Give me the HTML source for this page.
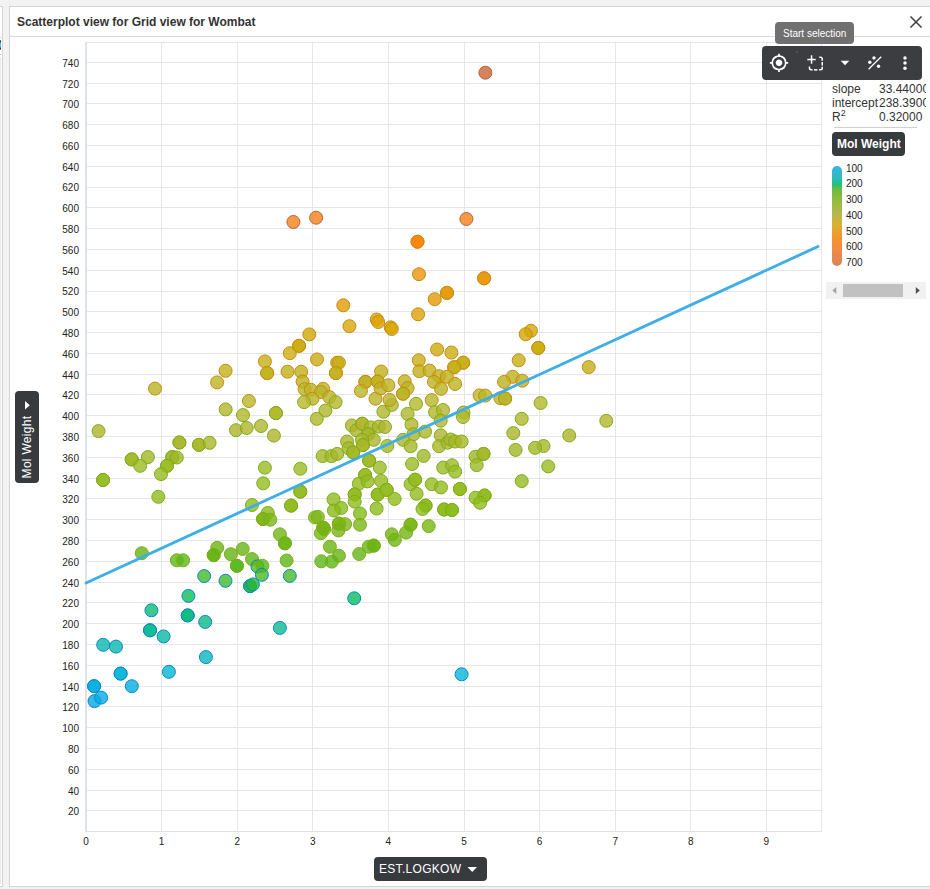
<!DOCTYPE html>
<html><head><meta charset="utf-8"><style>
*{margin:0;padding:0;box-sizing:border-box}
html,body{width:930px;height:889px;overflow:hidden;background:#f2f2f2;font-family:"Liberation Sans",sans-serif}
.lp{position:absolute;left:-10px;top:6px;width:13px;height:881px;background:#fff;border:1px solid #d4d4d4}
.lp .ln{position:absolute;left:0;top:30px;width:12px;height:1px;background:#e0e0e0}
.lp .ic{position:absolute;left:9px;top:33px;width:1.2px;height:10px;background:linear-gradient(#f5c070 0%,#101828 12%,#2a88d0 25%,#8cd0f0 50%,#2a88d0 75%,#101828 88%,#f5c070 100%)}
.lp .mk{position:absolute;left:9px;top:47px;width:1px;height:1px;background:#b0b0b0}
.lp .sb{position:absolute;left:9px;top:50px;width:1px;height:827px;background:#ebebeb}
.dlg{position:absolute;left:9px;top:6px;width:940px;height:881px;background:#fff;border:1px solid #d4d4d4}
.ttl{position:absolute;left:0;top:0;width:100%;height:30px;border-bottom:1px solid #d8d8d8}
.ttl span{position:absolute;left:7px;top:8px;font-size:12px;font-weight:bold;color:#333}
svg{position:absolute;left:0;top:0}
.yl{position:absolute;left:39px;width:40px;text-align:right;font-size:10px;color:#222;line-height:13px}
.xl{position:absolute;top:834.5px;width:20px;text-align:center;font-size:10px;color:#222;line-height:13px}
.btn{position:absolute;background:#383b3e;border-radius:4px;color:#fff}
</style></head><body>
<div class="lp"><div class="ln"></div><div class="ic"></div><div class="mk"></div><div class="sb"></div></div>
<div class="dlg"><div class="ttl"><span>Scatterplot view for Grid view for Wombat</span></div></div>
<svg width="930" height="889" viewBox="0 0 930 889">
<g stroke="#e4e6e9" stroke-width="1" shape-rendering="crispEdges">
<line x1="161.5" y1="42" x2="161.5" y2="831"/>
<line x1="237.5" y1="42" x2="237.5" y2="831"/>
<line x1="312.5" y1="42" x2="312.5" y2="831"/>
<line x1="388.5" y1="42" x2="388.5" y2="831"/>
<line x1="464.5" y1="42" x2="464.5" y2="831"/>
<line x1="539.5" y1="42" x2="539.5" y2="831"/>
<line x1="615.5" y1="42" x2="615.5" y2="831"/>
<line x1="690.5" y1="42" x2="690.5" y2="831"/>
<line x1="766.5" y1="42" x2="766.5" y2="831"/>
<line x1="86" y1="810.5" x2="821" y2="810.5"/>
<line x1="86" y1="790.5" x2="821" y2="790.5"/>
<line x1="86" y1="769.5" x2="821" y2="769.5"/>
<line x1="86" y1="748.5" x2="821" y2="748.5"/>
<line x1="86" y1="727.5" x2="821" y2="727.5"/>
<line x1="86" y1="706.5" x2="821" y2="706.5"/>
<line x1="86" y1="686.5" x2="821" y2="686.5"/>
<line x1="86" y1="665.5" x2="821" y2="665.5"/>
<line x1="86" y1="644.5" x2="821" y2="644.5"/>
<line x1="86" y1="623.5" x2="821" y2="623.5"/>
<line x1="86" y1="602.5" x2="821" y2="602.5"/>
<line x1="86" y1="582.5" x2="821" y2="582.5"/>
<line x1="86" y1="561.5" x2="821" y2="561.5"/>
<line x1="86" y1="540.5" x2="821" y2="540.5"/>
<line x1="86" y1="519.5" x2="821" y2="519.5"/>
<line x1="86" y1="498.5" x2="821" y2="498.5"/>
<line x1="86" y1="478.5" x2="821" y2="478.5"/>
<line x1="86" y1="457.5" x2="821" y2="457.5"/>
<line x1="86" y1="436.5" x2="821" y2="436.5"/>
<line x1="86" y1="415.5" x2="821" y2="415.5"/>
<line x1="86" y1="394.5" x2="821" y2="394.5"/>
<line x1="86" y1="374.5" x2="821" y2="374.5"/>
<line x1="86" y1="353.5" x2="821" y2="353.5"/>
<line x1="86" y1="332.5" x2="821" y2="332.5"/>
<line x1="86" y1="311.5" x2="821" y2="311.5"/>
<line x1="86" y1="291.5" x2="821" y2="291.5"/>
<line x1="86" y1="270.5" x2="821" y2="270.5"/>
<line x1="86" y1="249.5" x2="821" y2="249.5"/>
<line x1="86" y1="228.5" x2="821" y2="228.5"/>
<line x1="86" y1="207.5" x2="821" y2="207.5"/>
<line x1="86" y1="187.5" x2="821" y2="187.5"/>
<line x1="86" y1="166.5" x2="821" y2="166.5"/>
<line x1="86" y1="145.5" x2="821" y2="145.5"/>
<line x1="86" y1="124.5" x2="821" y2="124.5"/>
<line x1="86" y1="103.5" x2="821" y2="103.5"/>
<line x1="86" y1="83.5" x2="821" y2="83.5"/>
<line x1="86" y1="62.5" x2="821" y2="62.5"/>
<line x1="821.5" y1="42" x2="821.5" y2="831" />
<line x1="86" y1="42.5" x2="821" y2="42.5" />
</g>
<g shape-rendering="crispEdges"><rect x="85" y="42" width="2" height="790" fill="#e0e3e6"/><rect x="85" y="831" width="737" height="1" fill="#e0e3e6"/></g>
<g stroke-width="1">
<circle cx="485.4" cy="72.7" r="6.5" fill="#cb6433" fill-opacity="0.8" stroke="#bc6238" stroke-opacity="1"/>
<circle cx="293.4" cy="222.0" r="6.5" fill="#f38216" fill-opacity="0.8" stroke="#bc6238" stroke-opacity="1"/>
<circle cx="316.1" cy="217.7" r="6.5" fill="#f28218" fill-opacity="0.8" stroke="#bc6238" stroke-opacity="1"/>
<circle cx="466.4" cy="219.0" r="6.5" fill="#f28218" fill-opacity="0.8" stroke="#bc6238" stroke-opacity="1"/>
<circle cx="417.5" cy="241.7" r="6.5" fill="#fa8205" fill-opacity="0.8" stroke="#c88c10" stroke-opacity="1"/>
<circle cx="417.5" cy="241.7" r="6.5" fill="#fa8205" fill-opacity="0.8" stroke="#c88c10" stroke-opacity="1"/>
<circle cx="419.0" cy="274.2" r="6.5" fill="#ec950b" fill-opacity="0.8" stroke="#c88c10" stroke-opacity="1"/>
<circle cx="484.1" cy="278.3" r="6.5" fill="#eb960a" fill-opacity="0.8" stroke="#c88c10" stroke-opacity="1"/>
<circle cx="484.1" cy="278.3" r="6.5" fill="#eb960a" fill-opacity="0.8" stroke="#c88c10" stroke-opacity="1"/>
<circle cx="447.0" cy="292.8" r="6.5" fill="#e59907" fill-opacity="0.8" stroke="#c88c10" stroke-opacity="1"/>
<circle cx="447.0" cy="292.8" r="6.5" fill="#e59907" fill-opacity="0.8" stroke="#c88c10" stroke-opacity="1"/>
<circle cx="434.7" cy="299.2" r="6.5" fill="#e29a06" fill-opacity="0.8" stroke="#c88c10" stroke-opacity="1"/>
<circle cx="418.1" cy="314.3" r="6.5" fill="#dda005" fill-opacity="0.8" stroke="#c88c10" stroke-opacity="1"/>
<circle cx="343.3" cy="305.3" r="6.5" fill="#e09b05" fill-opacity="0.8" stroke="#c88c10" stroke-opacity="1"/>
<circle cx="349.4" cy="326.2" r="6.5" fill="#daa805" fill-opacity="0.8" stroke="#c88c10" stroke-opacity="1"/>
<circle cx="309.3" cy="334.4" r="6.5" fill="#d1a805" fill-opacity="0.8" stroke="#c88c10" stroke-opacity="1"/>
<circle cx="376.8" cy="319.5" r="6.5" fill="#dca405" fill-opacity="0.8" stroke="#c88c10" stroke-opacity="1"/>
<circle cx="378.2" cy="322.0" r="6.5" fill="#dba505" fill-opacity="0.8" stroke="#c88c10" stroke-opacity="1"/>
<circle cx="390.7" cy="327.3" r="6.5" fill="#d9a805" fill-opacity="0.8" stroke="#c88c10" stroke-opacity="1"/>
<circle cx="391.8" cy="329.0" r="6.5" fill="#d7a805" fill-opacity="0.8" stroke="#c88c10" stroke-opacity="1"/>
<circle cx="530.9" cy="330.8" r="6.5" fill="#d5a805" fill-opacity="0.8" stroke="#c88c10" stroke-opacity="1"/>
<circle cx="525.7" cy="334.2" r="6.5" fill="#d2a805" fill-opacity="0.8" stroke="#c88c10" stroke-opacity="1"/>
<circle cx="225.6" cy="370.8" r="6.5" fill="#c2b01a" fill-opacity="0.8" stroke="#c88c10" stroke-opacity="1"/>
<circle cx="217.1" cy="382.4" r="6.5" fill="#bdb320" fill-opacity="0.8" stroke="#c88c10" stroke-opacity="1"/>
<circle cx="264.9" cy="361.4" r="6.5" fill="#c6ae14" fill-opacity="0.8" stroke="#c88c10" stroke-opacity="1"/>
<circle cx="267.2" cy="373.1" r="6.5" fill="#c1b11b" fill-opacity="0.8" stroke="#c88c10" stroke-opacity="1"/>
<circle cx="267.2" cy="373.1" r="6.5" fill="#c1b11b" fill-opacity="0.8" stroke="#c88c10" stroke-opacity="1"/>
<circle cx="289.8" cy="353.2" r="6.5" fill="#c9ac10" fill-opacity="0.8" stroke="#c88c10" stroke-opacity="1"/>
<circle cx="299.0" cy="345.8" r="6.5" fill="#ccaa0b" fill-opacity="0.8" stroke="#c88c10" stroke-opacity="1"/>
<circle cx="299.0" cy="345.8" r="6.5" fill="#ccaa0b" fill-opacity="0.8" stroke="#c88c10" stroke-opacity="1"/>
<circle cx="287.5" cy="371.7" r="6.5" fill="#c1b01a" fill-opacity="0.8" stroke="#c88c10" stroke-opacity="1"/>
<circle cx="248.9" cy="401.0" r="6.5" fill="#b6b729" fill-opacity="0.8" stroke="#c88c10" stroke-opacity="1"/>
<circle cx="225.6" cy="409.4" r="6.5" fill="#b3b72b" fill-opacity="0.8" stroke="#80ac1c" stroke-opacity="1"/>
<circle cx="243.0" cy="415.1" r="6.5" fill="#b2b72b" fill-opacity="0.8" stroke="#80ac1c" stroke-opacity="1"/>
<circle cx="275.9" cy="413.1" r="6.5" fill="#b2b72b" fill-opacity="0.8" stroke="#80ac1c" stroke-opacity="1"/>
<circle cx="275.9" cy="413.1" r="6.5" fill="#b2b72b" fill-opacity="0.8" stroke="#80ac1c" stroke-opacity="1"/>
<circle cx="317.0" cy="359.4" r="6.5" fill="#c7ad13" fill-opacity="0.8" stroke="#c88c10" stroke-opacity="1"/>
<circle cx="337.2" cy="362.7" r="6.5" fill="#c5ae15" fill-opacity="0.8" stroke="#c88c10" stroke-opacity="1"/>
<circle cx="338.9" cy="362.7" r="6.5" fill="#c5ae15" fill-opacity="0.8" stroke="#c88c10" stroke-opacity="1"/>
<circle cx="335.9" cy="373.1" r="6.5" fill="#c1b11b" fill-opacity="0.8" stroke="#c88c10" stroke-opacity="1"/>
<circle cx="335.9" cy="373.1" r="6.5" fill="#c1b11b" fill-opacity="0.8" stroke="#c88c10" stroke-opacity="1"/>
<circle cx="301.2" cy="371.7" r="6.5" fill="#c1b01a" fill-opacity="0.8" stroke="#c88c10" stroke-opacity="1"/>
<circle cx="302.6" cy="381.6" r="6.5" fill="#bdb220" fill-opacity="0.8" stroke="#c88c10" stroke-opacity="1"/>
<circle cx="304.6" cy="389.2" r="6.5" fill="#bab424" fill-opacity="0.8" stroke="#c88c10" stroke-opacity="1"/>
<circle cx="310.8" cy="389.7" r="6.5" fill="#bab424" fill-opacity="0.8" stroke="#c88c10" stroke-opacity="1"/>
<circle cx="323.2" cy="388.8" r="6.5" fill="#bab424" fill-opacity="0.8" stroke="#c88c10" stroke-opacity="1"/>
<circle cx="320.9" cy="392.0" r="6.5" fill="#b9b525" fill-opacity="0.8" stroke="#c88c10" stroke-opacity="1"/>
<circle cx="312.5" cy="398.7" r="6.5" fill="#b6b628" fill-opacity="0.8" stroke="#c88c10" stroke-opacity="1"/>
<circle cx="329.4" cy="397.1" r="6.5" fill="#b7b627" fill-opacity="0.8" stroke="#c88c10" stroke-opacity="1"/>
<circle cx="304.1" cy="402.1" r="6.5" fill="#b5b72a" fill-opacity="0.8" stroke="#80ac1c" stroke-opacity="1"/>
<circle cx="335.6" cy="402.1" r="6.5" fill="#b5b72a" fill-opacity="0.8" stroke="#80ac1c" stroke-opacity="1"/>
<circle cx="325.4" cy="410.6" r="6.5" fill="#b3b72b" fill-opacity="0.8" stroke="#80ac1c" stroke-opacity="1"/>
<circle cx="365.4" cy="381.9" r="6.5" fill="#bdb220" fill-opacity="0.8" stroke="#c88c10" stroke-opacity="1"/>
<circle cx="365.4" cy="381.9" r="6.5" fill="#bdb220" fill-opacity="0.8" stroke="#c88c10" stroke-opacity="1"/>
<circle cx="360.9" cy="390.9" r="6.5" fill="#b9b525" fill-opacity="0.8" stroke="#c88c10" stroke-opacity="1"/>
<circle cx="375.5" cy="398.7" r="6.5" fill="#b6b628" fill-opacity="0.8" stroke="#c88c10" stroke-opacity="1"/>
<circle cx="381.1" cy="371.5" r="6.5" fill="#c1b01a" fill-opacity="0.8" stroke="#c88c10" stroke-opacity="1"/>
<circle cx="377.7" cy="381.6" r="6.5" fill="#bdb220" fill-opacity="0.8" stroke="#c88c10" stroke-opacity="1"/>
<circle cx="377.7" cy="381.6" r="6.5" fill="#bdb220" fill-opacity="0.8" stroke="#c88c10" stroke-opacity="1"/>
<circle cx="380.6" cy="388.4" r="6.5" fill="#bab424" fill-opacity="0.8" stroke="#c88c10" stroke-opacity="1"/>
<circle cx="383.4" cy="411.7" r="6.5" fill="#b3b72b" fill-opacity="0.8" stroke="#80ac1c" stroke-opacity="1"/>
<circle cx="437.1" cy="349.5" r="6.5" fill="#cbab0d" fill-opacity="0.8" stroke="#c88c10" stroke-opacity="1"/>
<circle cx="451.4" cy="352.6" r="6.5" fill="#c9ac0f" fill-opacity="0.8" stroke="#c88c10" stroke-opacity="1"/>
<circle cx="418.8" cy="360.3" r="6.5" fill="#c6ae14" fill-opacity="0.8" stroke="#c88c10" stroke-opacity="1"/>
<circle cx="463.2" cy="362.7" r="6.5" fill="#c5ae15" fill-opacity="0.8" stroke="#c88c10" stroke-opacity="1"/>
<circle cx="463.2" cy="362.7" r="6.5" fill="#c5ae15" fill-opacity="0.8" stroke="#c88c10" stroke-opacity="1"/>
<circle cx="454.2" cy="367.2" r="6.5" fill="#c3af18" fill-opacity="0.8" stroke="#c88c10" stroke-opacity="1"/>
<circle cx="454.2" cy="367.2" r="6.5" fill="#c3af18" fill-opacity="0.8" stroke="#c88c10" stroke-opacity="1"/>
<circle cx="419.4" cy="371.2" r="6.5" fill="#c1b01a" fill-opacity="0.8" stroke="#c88c10" stroke-opacity="1"/>
<circle cx="429.5" cy="370.6" r="6.5" fill="#c2b01a" fill-opacity="0.8" stroke="#c88c10" stroke-opacity="1"/>
<circle cx="439.1" cy="376.2" r="6.5" fill="#bfb11d" fill-opacity="0.8" stroke="#c88c10" stroke-opacity="1"/>
<circle cx="446.9" cy="376.8" r="6.5" fill="#bfb11d" fill-opacity="0.8" stroke="#c88c10" stroke-opacity="1"/>
<circle cx="434.0" cy="381.9" r="6.5" fill="#bdb220" fill-opacity="0.8" stroke="#c88c10" stroke-opacity="1"/>
<circle cx="455.1" cy="383.9" r="6.5" fill="#bcb321" fill-opacity="0.8" stroke="#c88c10" stroke-opacity="1"/>
<circle cx="441.0" cy="388.8" r="6.5" fill="#bab424" fill-opacity="0.8" stroke="#c88c10" stroke-opacity="1"/>
<circle cx="431.7" cy="400.1" r="6.5" fill="#b6b729" fill-opacity="0.8" stroke="#c88c10" stroke-opacity="1"/>
<circle cx="404.7" cy="381.3" r="6.5" fill="#bdb220" fill-opacity="0.8" stroke="#c88c10" stroke-opacity="1"/>
<circle cx="407.6" cy="388.1" r="6.5" fill="#bab424" fill-opacity="0.8" stroke="#c88c10" stroke-opacity="1"/>
<circle cx="403.1" cy="393.7" r="6.5" fill="#b8b526" fill-opacity="0.8" stroke="#c88c10" stroke-opacity="1"/>
<circle cx="403.1" cy="393.7" r="6.5" fill="#b8b526" fill-opacity="0.8" stroke="#c88c10" stroke-opacity="1"/>
<circle cx="388.4" cy="385.2" r="6.5" fill="#bcb322" fill-opacity="0.8" stroke="#c88c10" stroke-opacity="1"/>
<circle cx="391.8" cy="404.9" r="6.5" fill="#b4b82b" fill-opacity="0.8" stroke="#80ac1c" stroke-opacity="1"/>
<circle cx="389.6" cy="399.9" r="6.5" fill="#b6b729" fill-opacity="0.8" stroke="#c88c10" stroke-opacity="1"/>
<circle cx="416.0" cy="403.8" r="6.5" fill="#b5b82a" fill-opacity="0.8" stroke="#80ac1c" stroke-opacity="1"/>
<circle cx="407.6" cy="413.9" r="6.5" fill="#b2b72b" fill-opacity="0.8" stroke="#80ac1c" stroke-opacity="1"/>
<circle cx="435.1" cy="412.2" r="6.5" fill="#b2b72b" fill-opacity="0.8" stroke="#80ac1c" stroke-opacity="1"/>
<circle cx="443.0" cy="410.0" r="6.5" fill="#b3b72b" fill-opacity="0.8" stroke="#80ac1c" stroke-opacity="1"/>
<circle cx="463.5" cy="412.5" r="6.5" fill="#b2b72b" fill-opacity="0.8" stroke="#80ac1c" stroke-opacity="1"/>
<circle cx="463.0" cy="417.0" r="6.5" fill="#b1b62b" fill-opacity="0.8" stroke="#80ac1c" stroke-opacity="1"/>
<circle cx="538.3" cy="347.9" r="6.5" fill="#cbab0d" fill-opacity="0.8" stroke="#c88c10" stroke-opacity="1"/>
<circle cx="538.3" cy="347.9" r="6.5" fill="#cbab0d" fill-opacity="0.8" stroke="#c88c10" stroke-opacity="1"/>
<circle cx="518.7" cy="360.3" r="6.5" fill="#c6ae14" fill-opacity="0.8" stroke="#c88c10" stroke-opacity="1"/>
<circle cx="512.7" cy="376.8" r="6.5" fill="#bfb11d" fill-opacity="0.8" stroke="#c88c10" stroke-opacity="1"/>
<circle cx="504.1" cy="381.9" r="6.5" fill="#bdb220" fill-opacity="0.8" stroke="#c88c10" stroke-opacity="1"/>
<circle cx="522.3" cy="380.7" r="6.5" fill="#bdb21f" fill-opacity="0.8" stroke="#c88c10" stroke-opacity="1"/>
<circle cx="479.6" cy="395.4" r="6.5" fill="#b8b627" fill-opacity="0.8" stroke="#c88c10" stroke-opacity="1"/>
<circle cx="485.2" cy="395.6" r="6.5" fill="#b8b627" fill-opacity="0.8" stroke="#c88c10" stroke-opacity="1"/>
<circle cx="500.4" cy="398.2" r="6.5" fill="#b7b628" fill-opacity="0.8" stroke="#c88c10" stroke-opacity="1"/>
<circle cx="505.1" cy="398.5" r="6.5" fill="#b7b628" fill-opacity="0.8" stroke="#c88c10" stroke-opacity="1"/>
<circle cx="505.1" cy="398.5" r="6.5" fill="#b7b628" fill-opacity="0.8" stroke="#c88c10" stroke-opacity="1"/>
<circle cx="540.6" cy="403.0" r="6.5" fill="#b5b72a" fill-opacity="0.8" stroke="#80ac1c" stroke-opacity="1"/>
<circle cx="588.7" cy="367.1" r="6.5" fill="#c3af18" fill-opacity="0.8" stroke="#c88c10" stroke-opacity="1"/>
<circle cx="606.3" cy="420.8" r="6.5" fill="#b0b62b" fill-opacity="0.8" stroke="#80ac1c" stroke-opacity="1"/>
<circle cx="569.2" cy="435.5" r="6.5" fill="#acb52a" fill-opacity="0.8" stroke="#80ac1c" stroke-opacity="1"/>
<circle cx="543.5" cy="446.0" r="6.5" fill="#a6b628" fill-opacity="0.8" stroke="#80ac1c" stroke-opacity="1"/>
<circle cx="535.1" cy="447.8" r="6.5" fill="#a5b728" fill-opacity="0.8" stroke="#80ac1c" stroke-opacity="1"/>
<circle cx="548.2" cy="466.4" r="6.5" fill="#9cba24" fill-opacity="0.8" stroke="#80ac1c" stroke-opacity="1"/>
<circle cx="155.0" cy="388.6" r="6.5" fill="#bab424" fill-opacity="0.8" stroke="#c88c10" stroke-opacity="1"/>
<circle cx="98.5" cy="431.1" r="6.5" fill="#aeb42b" fill-opacity="0.8" stroke="#80ac1c" stroke-opacity="1"/>
<circle cx="179.4" cy="442.5" r="6.5" fill="#a8b629" fill-opacity="0.8" stroke="#80ac1c" stroke-opacity="1"/>
<circle cx="179.4" cy="442.5" r="6.5" fill="#a8b629" fill-opacity="0.8" stroke="#80ac1c" stroke-opacity="1"/>
<circle cx="199.0" cy="444.8" r="6.5" fill="#a7b628" fill-opacity="0.8" stroke="#80ac1c" stroke-opacity="1"/>
<circle cx="199.0" cy="444.8" r="6.5" fill="#a7b628" fill-opacity="0.8" stroke="#80ac1c" stroke-opacity="1"/>
<circle cx="209.6" cy="442.8" r="6.5" fill="#a8b629" fill-opacity="0.8" stroke="#80ac1c" stroke-opacity="1"/>
<circle cx="131.7" cy="459.4" r="6.5" fill="#9fb926" fill-opacity="0.8" stroke="#80ac1c" stroke-opacity="1"/>
<circle cx="131.7" cy="459.4" r="6.5" fill="#9fb926" fill-opacity="0.8" stroke="#80ac1c" stroke-opacity="1"/>
<circle cx="147.9" cy="457.1" r="6.5" fill="#a1b826" fill-opacity="0.8" stroke="#80ac1c" stroke-opacity="1"/>
<circle cx="140.2" cy="465.8" r="6.5" fill="#9cba24" fill-opacity="0.8" stroke="#80ac1c" stroke-opacity="1"/>
<circle cx="172.3" cy="457.1" r="6.5" fill="#a1b826" fill-opacity="0.8" stroke="#80ac1c" stroke-opacity="1"/>
<circle cx="172.3" cy="457.1" r="6.5" fill="#a1b826" fill-opacity="0.8" stroke="#80ac1c" stroke-opacity="1"/>
<circle cx="176.8" cy="457.5" r="6.5" fill="#a0b826" fill-opacity="0.8" stroke="#80ac1c" stroke-opacity="1"/>
<circle cx="167.0" cy="465.8" r="6.5" fill="#9cba24" fill-opacity="0.8" stroke="#80ac1c" stroke-opacity="1"/>
<circle cx="167.0" cy="465.8" r="6.5" fill="#9cba24" fill-opacity="0.8" stroke="#80ac1c" stroke-opacity="1"/>
<circle cx="161.0" cy="474.1" r="6.5" fill="#98ba22" fill-opacity="0.8" stroke="#80ac1c" stroke-opacity="1"/>
<circle cx="103.1" cy="480.0" r="6.5" fill="#96ba20" fill-opacity="0.8" stroke="#80ac1c" stroke-opacity="1"/>
<circle cx="103.1" cy="480.0" r="6.5" fill="#96ba20" fill-opacity="0.8" stroke="#80ac1c" stroke-opacity="1"/>
<circle cx="158.3" cy="496.8" r="6.5" fill="#91bb1c" fill-opacity="0.8" stroke="#80ac1c" stroke-opacity="1"/>
<circle cx="141.8" cy="553.2" r="6.5" fill="#65b412" fill-opacity="0.8" stroke="#80ac1c" stroke-opacity="1"/>
<circle cx="176.8" cy="560.3" r="6.5" fill="#5db616" fill-opacity="0.8" stroke="#80ac1c" stroke-opacity="1"/>
<circle cx="183.1" cy="560.3" r="6.5" fill="#5db616" fill-opacity="0.8" stroke="#80ac1c" stroke-opacity="1"/>
<circle cx="217.2" cy="547.8" r="6.5" fill="#69b413" fill-opacity="0.8" stroke="#80ac1c" stroke-opacity="1"/>
<circle cx="213.7" cy="555.1" r="6.5" fill="#64b412" fill-opacity="0.8" stroke="#80ac1c" stroke-opacity="1"/>
<circle cx="213.7" cy="555.1" r="6.5" fill="#64b412" fill-opacity="0.8" stroke="#80ac1c" stroke-opacity="1"/>
<circle cx="204.2" cy="576.1" r="6.5" fill="#45b92a" fill-opacity="0.8" stroke="#0a8ac4" stroke-opacity="1"/>
<circle cx="225.5" cy="580.8" r="6.5" fill="#3eba31" fill-opacity="0.8" stroke="#0a8ac4" stroke-opacity="1"/>
<circle cx="236.0" cy="430.2" r="6.5" fill="#aeb42b" fill-opacity="0.8" stroke="#80ac1c" stroke-opacity="1"/>
<circle cx="246.7" cy="428.0" r="6.5" fill="#afb52b" fill-opacity="0.8" stroke="#80ac1c" stroke-opacity="1"/>
<circle cx="261.0" cy="426.0" r="6.5" fill="#afb52b" fill-opacity="0.8" stroke="#80ac1c" stroke-opacity="1"/>
<circle cx="273.9" cy="435.6" r="6.5" fill="#acb52a" fill-opacity="0.8" stroke="#80ac1c" stroke-opacity="1"/>
<circle cx="264.9" cy="467.7" r="6.5" fill="#9bba24" fill-opacity="0.8" stroke="#80ac1c" stroke-opacity="1"/>
<circle cx="263.2" cy="483.3" r="6.5" fill="#95ba1f" fill-opacity="0.8" stroke="#80ac1c" stroke-opacity="1"/>
<circle cx="252.0" cy="505.0" r="6.5" fill="#8ebc1b" fill-opacity="0.8" stroke="#80ac1c" stroke-opacity="1"/>
<circle cx="291.1" cy="505.6" r="6.5" fill="#8ebc1a" fill-opacity="0.8" stroke="#80ac1c" stroke-opacity="1"/>
<circle cx="291.1" cy="505.6" r="6.5" fill="#8ebc1a" fill-opacity="0.8" stroke="#80ac1c" stroke-opacity="1"/>
<circle cx="316.8" cy="418.8" r="6.5" fill="#b1b62b" fill-opacity="0.8" stroke="#80ac1c" stroke-opacity="1"/>
<circle cx="351.9" cy="425.5" r="6.5" fill="#afb52b" fill-opacity="0.8" stroke="#80ac1c" stroke-opacity="1"/>
<circle cx="356.4" cy="430.2" r="6.5" fill="#aeb42b" fill-opacity="0.8" stroke="#80ac1c" stroke-opacity="1"/>
<circle cx="362.2" cy="423.7" r="6.5" fill="#b0b52b" fill-opacity="0.8" stroke="#80ac1c" stroke-opacity="1"/>
<circle cx="362.2" cy="423.7" r="6.5" fill="#b0b52b" fill-opacity="0.8" stroke="#80ac1c" stroke-opacity="1"/>
<circle cx="371.0" cy="427.4" r="6.5" fill="#afb52b" fill-opacity="0.8" stroke="#80ac1c" stroke-opacity="1"/>
<circle cx="378.9" cy="426.6" r="6.5" fill="#afb52b" fill-opacity="0.8" stroke="#80ac1c" stroke-opacity="1"/>
<circle cx="385.0" cy="426.9" r="6.5" fill="#afb52b" fill-opacity="0.8" stroke="#80ac1c" stroke-opacity="1"/>
<circle cx="368.2" cy="434.2" r="6.5" fill="#adb42a" fill-opacity="0.8" stroke="#80ac1c" stroke-opacity="1"/>
<circle cx="368.2" cy="434.2" r="6.5" fill="#adb42a" fill-opacity="0.8" stroke="#80ac1c" stroke-opacity="1"/>
<circle cx="373.8" cy="439.8" r="6.5" fill="#aab529" fill-opacity="0.8" stroke="#80ac1c" stroke-opacity="1"/>
<circle cx="362.0" cy="439.8" r="6.5" fill="#aab529" fill-opacity="0.8" stroke="#80ac1c" stroke-opacity="1"/>
<circle cx="362.9" cy="445.1" r="6.5" fill="#a7b628" fill-opacity="0.8" stroke="#80ac1c" stroke-opacity="1"/>
<circle cx="362.9" cy="445.1" r="6.5" fill="#a7b628" fill-opacity="0.8" stroke="#80ac1c" stroke-opacity="1"/>
<circle cx="347.1" cy="441.5" r="6.5" fill="#a9b629" fill-opacity="0.8" stroke="#80ac1c" stroke-opacity="1"/>
<circle cx="348.5" cy="448.2" r="6.5" fill="#a5b728" fill-opacity="0.8" stroke="#80ac1c" stroke-opacity="1"/>
<circle cx="353.2" cy="452.5" r="6.5" fill="#a3b727" fill-opacity="0.8" stroke="#80ac1c" stroke-opacity="1"/>
<circle cx="353.2" cy="452.5" r="6.5" fill="#a3b727" fill-opacity="0.8" stroke="#80ac1c" stroke-opacity="1"/>
<circle cx="387.3" cy="446.0" r="6.5" fill="#a6b628" fill-opacity="0.8" stroke="#80ac1c" stroke-opacity="1"/>
<circle cx="322.6" cy="456.1" r="6.5" fill="#a1b826" fill-opacity="0.8" stroke="#80ac1c" stroke-opacity="1"/>
<circle cx="331.4" cy="456.1" r="6.5" fill="#a1b826" fill-opacity="0.8" stroke="#80ac1c" stroke-opacity="1"/>
<circle cx="337.2" cy="453.9" r="6.5" fill="#a2b827" fill-opacity="0.8" stroke="#80ac1c" stroke-opacity="1"/>
<circle cx="300.3" cy="468.7" r="6.5" fill="#9bba24" fill-opacity="0.8" stroke="#80ac1c" stroke-opacity="1"/>
<circle cx="369.1" cy="460.6" r="6.5" fill="#9fb925" fill-opacity="0.8" stroke="#80ac1c" stroke-opacity="1"/>
<circle cx="369.1" cy="460.6" r="6.5" fill="#9fb925" fill-opacity="0.8" stroke="#80ac1c" stroke-opacity="1"/>
<circle cx="379.8" cy="467.6" r="6.5" fill="#9bba24" fill-opacity="0.8" stroke="#80ac1c" stroke-opacity="1"/>
<circle cx="365.1" cy="475.0" r="6.5" fill="#98ba22" fill-opacity="0.8" stroke="#80ac1c" stroke-opacity="1"/>
<circle cx="365.1" cy="475.0" r="6.5" fill="#98ba22" fill-opacity="0.8" stroke="#80ac1c" stroke-opacity="1"/>
<circle cx="358.8" cy="483.7" r="6.5" fill="#95ba1f" fill-opacity="0.8" stroke="#80ac1c" stroke-opacity="1"/>
<circle cx="367.6" cy="481.4" r="6.5" fill="#96ba20" fill-opacity="0.8" stroke="#80ac1c" stroke-opacity="1"/>
<circle cx="381.1" cy="480.9" r="6.5" fill="#96ba20" fill-opacity="0.8" stroke="#80ac1c" stroke-opacity="1"/>
<circle cx="300.3" cy="491.6" r="6.5" fill="#92bb1d" fill-opacity="0.8" stroke="#80ac1c" stroke-opacity="1"/>
<circle cx="300.3" cy="491.6" r="6.5" fill="#92bb1d" fill-opacity="0.8" stroke="#80ac1c" stroke-opacity="1"/>
<circle cx="354.7" cy="494.4" r="6.5" fill="#91bb1d" fill-opacity="0.8" stroke="#80ac1c" stroke-opacity="1"/>
<circle cx="354.7" cy="494.4" r="6.5" fill="#91bb1d" fill-opacity="0.8" stroke="#80ac1c" stroke-opacity="1"/>
<circle cx="354.7" cy="501.7" r="6.5" fill="#8fbc1b" fill-opacity="0.8" stroke="#80ac1c" stroke-opacity="1"/>
<circle cx="377.7" cy="494.6" r="6.5" fill="#91bb1d" fill-opacity="0.8" stroke="#80ac1c" stroke-opacity="1"/>
<circle cx="377.7" cy="494.6" r="6.5" fill="#91bb1d" fill-opacity="0.8" stroke="#80ac1c" stroke-opacity="1"/>
<circle cx="386.7" cy="489.9" r="6.5" fill="#93bb1e" fill-opacity="0.8" stroke="#80ac1c" stroke-opacity="1"/>
<circle cx="386.7" cy="489.9" r="6.5" fill="#93bb1e" fill-opacity="0.8" stroke="#80ac1c" stroke-opacity="1"/>
<circle cx="333.6" cy="499.4" r="6.5" fill="#90bb1c" fill-opacity="0.8" stroke="#80ac1c" stroke-opacity="1"/>
<circle cx="341.2" cy="508.0" r="6.5" fill="#8cbc1a" fill-opacity="0.8" stroke="#80ac1c" stroke-opacity="1"/>
<circle cx="333.9" cy="510.5" r="6.5" fill="#89ba19" fill-opacity="0.8" stroke="#80ac1c" stroke-opacity="1"/>
<circle cx="376.6" cy="508.5" r="6.5" fill="#8bbb19" fill-opacity="0.8" stroke="#80ac1c" stroke-opacity="1"/>
<circle cx="360.0" cy="513.5" r="6.5" fill="#84b917" fill-opacity="0.8" stroke="#80ac1c" stroke-opacity="1"/>
<circle cx="440.7" cy="420.7" r="6.5" fill="#b0b62b" fill-opacity="0.8" stroke="#80ac1c" stroke-opacity="1"/>
<circle cx="411.5" cy="424.6" r="6.5" fill="#b0b52b" fill-opacity="0.8" stroke="#80ac1c" stroke-opacity="1"/>
<circle cx="425.0" cy="431.6" r="6.5" fill="#aeb42b" fill-opacity="0.8" stroke="#80ac1c" stroke-opacity="1"/>
<circle cx="413.5" cy="434.2" r="6.5" fill="#adb42a" fill-opacity="0.8" stroke="#80ac1c" stroke-opacity="1"/>
<circle cx="403.1" cy="439.8" r="6.5" fill="#aab529" fill-opacity="0.8" stroke="#80ac1c" stroke-opacity="1"/>
<circle cx="410.6" cy="446.2" r="6.5" fill="#a6b628" fill-opacity="0.8" stroke="#80ac1c" stroke-opacity="1"/>
<circle cx="440.7" cy="435.3" r="6.5" fill="#acb52a" fill-opacity="0.8" stroke="#80ac1c" stroke-opacity="1"/>
<circle cx="439.1" cy="446.2" r="6.5" fill="#a6b628" fill-opacity="0.8" stroke="#80ac1c" stroke-opacity="1"/>
<circle cx="447.5" cy="442.6" r="6.5" fill="#a8b629" fill-opacity="0.8" stroke="#80ac1c" stroke-opacity="1"/>
<circle cx="450.6" cy="439.5" r="6.5" fill="#aab529" fill-opacity="0.8" stroke="#80ac1c" stroke-opacity="1"/>
<circle cx="455.1" cy="441.5" r="6.5" fill="#a9b629" fill-opacity="0.8" stroke="#80ac1c" stroke-opacity="1"/>
<circle cx="461.6" cy="441.5" r="6.5" fill="#a9b629" fill-opacity="0.8" stroke="#80ac1c" stroke-opacity="1"/>
<circle cx="423.6" cy="455.9" r="6.5" fill="#a1b826" fill-opacity="0.8" stroke="#80ac1c" stroke-opacity="1"/>
<circle cx="412.1" cy="464.0" r="6.5" fill="#9db925" fill-opacity="0.8" stroke="#80ac1c" stroke-opacity="1"/>
<circle cx="443.2" cy="467.6" r="6.5" fill="#9bba24" fill-opacity="0.8" stroke="#80ac1c" stroke-opacity="1"/>
<circle cx="452.0" cy="465.3" r="6.5" fill="#9cba24" fill-opacity="0.8" stroke="#80ac1c" stroke-opacity="1"/>
<circle cx="455.1" cy="471.6" r="6.5" fill="#99ba23" fill-opacity="0.8" stroke="#80ac1c" stroke-opacity="1"/>
<circle cx="475.6" cy="456.7" r="6.5" fill="#a1b826" fill-opacity="0.8" stroke="#80ac1c" stroke-opacity="1"/>
<circle cx="476.7" cy="465.1" r="6.5" fill="#9cba25" fill-opacity="0.8" stroke="#80ac1c" stroke-opacity="1"/>
<circle cx="394.6" cy="498.9" r="6.5" fill="#90bb1c" fill-opacity="0.8" stroke="#80ac1c" stroke-opacity="1"/>
<circle cx="410.6" cy="484.2" r="6.5" fill="#95ba1f" fill-opacity="0.8" stroke="#80ac1c" stroke-opacity="1"/>
<circle cx="415.1" cy="479.7" r="6.5" fill="#96ba20" fill-opacity="0.8" stroke="#80ac1c" stroke-opacity="1"/>
<circle cx="415.1" cy="479.7" r="6.5" fill="#96ba20" fill-opacity="0.8" stroke="#80ac1c" stroke-opacity="1"/>
<circle cx="416.6" cy="493.8" r="6.5" fill="#92bb1d" fill-opacity="0.8" stroke="#80ac1c" stroke-opacity="1"/>
<circle cx="431.7" cy="484.2" r="6.5" fill="#95ba1f" fill-opacity="0.8" stroke="#80ac1c" stroke-opacity="1"/>
<circle cx="441.0" cy="487.4" r="6.5" fill="#94bb1e" fill-opacity="0.8" stroke="#80ac1c" stroke-opacity="1"/>
<circle cx="459.9" cy="489.0" r="6.5" fill="#93bb1e" fill-opacity="0.8" stroke="#80ac1c" stroke-opacity="1"/>
<circle cx="459.9" cy="489.0" r="6.5" fill="#93bb1e" fill-opacity="0.8" stroke="#80ac1c" stroke-opacity="1"/>
<circle cx="475.6" cy="497.7" r="6.5" fill="#90bb1c" fill-opacity="0.8" stroke="#80ac1c" stroke-opacity="1"/>
<circle cx="425.6" cy="505.6" r="6.5" fill="#8ebc1a" fill-opacity="0.8" stroke="#80ac1c" stroke-opacity="1"/>
<circle cx="425.6" cy="505.6" r="6.5" fill="#8ebc1a" fill-opacity="0.8" stroke="#80ac1c" stroke-opacity="1"/>
<circle cx="422.5" cy="509.0" r="6.5" fill="#8bbb19" fill-opacity="0.8" stroke="#80ac1c" stroke-opacity="1"/>
<circle cx="444.1" cy="509.5" r="6.5" fill="#8abb19" fill-opacity="0.8" stroke="#80ac1c" stroke-opacity="1"/>
<circle cx="444.1" cy="509.5" r="6.5" fill="#8abb19" fill-opacity="0.8" stroke="#80ac1c" stroke-opacity="1"/>
<circle cx="452.0" cy="510.0" r="6.5" fill="#89bb19" fill-opacity="0.8" stroke="#80ac1c" stroke-opacity="1"/>
<circle cx="452.0" cy="510.0" r="6.5" fill="#89bb19" fill-opacity="0.8" stroke="#80ac1c" stroke-opacity="1"/>
<circle cx="521.7" cy="418.8" r="6.5" fill="#b1b62b" fill-opacity="0.8" stroke="#80ac1c" stroke-opacity="1"/>
<circle cx="513.3" cy="433.1" r="6.5" fill="#adb42b" fill-opacity="0.8" stroke="#80ac1c" stroke-opacity="1"/>
<circle cx="515.6" cy="449.9" r="6.5" fill="#a4b727" fill-opacity="0.8" stroke="#80ac1c" stroke-opacity="1"/>
<circle cx="483.5" cy="453.9" r="6.5" fill="#a2b827" fill-opacity="0.8" stroke="#80ac1c" stroke-opacity="1"/>
<circle cx="483.5" cy="453.9" r="6.5" fill="#a2b827" fill-opacity="0.8" stroke="#80ac1c" stroke-opacity="1"/>
<circle cx="521.7" cy="481.1" r="6.5" fill="#96ba20" fill-opacity="0.8" stroke="#80ac1c" stroke-opacity="1"/>
<circle cx="484.6" cy="495.5" r="6.5" fill="#91bb1d" fill-opacity="0.8" stroke="#80ac1c" stroke-opacity="1"/>
<circle cx="484.6" cy="495.5" r="6.5" fill="#91bb1d" fill-opacity="0.8" stroke="#80ac1c" stroke-opacity="1"/>
<circle cx="480.1" cy="502.8" r="6.5" fill="#8fbc1b" fill-opacity="0.8" stroke="#80ac1c" stroke-opacity="1"/>
<circle cx="267.8" cy="512.9" r="6.5" fill="#85b918" fill-opacity="0.8" stroke="#80ac1c" stroke-opacity="1"/>
<circle cx="263.0" cy="519.1" r="6.5" fill="#7db615" fill-opacity="0.8" stroke="#80ac1c" stroke-opacity="1"/>
<circle cx="263.0" cy="519.1" r="6.5" fill="#7db615" fill-opacity="0.8" stroke="#80ac1c" stroke-opacity="1"/>
<circle cx="270.3" cy="519.7" r="6.5" fill="#7cb615" fill-opacity="0.8" stroke="#80ac1c" stroke-opacity="1"/>
<circle cx="279.9" cy="534.3" r="6.5" fill="#72b514" fill-opacity="0.8" stroke="#80ac1c" stroke-opacity="1"/>
<circle cx="284.9" cy="543.3" r="6.5" fill="#6cb513" fill-opacity="0.8" stroke="#80ac1c" stroke-opacity="1"/>
<circle cx="284.9" cy="543.3" r="6.5" fill="#6cb513" fill-opacity="0.8" stroke="#80ac1c" stroke-opacity="1"/>
<circle cx="286.6" cy="560.5" r="6.5" fill="#5db616" fill-opacity="0.8" stroke="#80ac1c" stroke-opacity="1"/>
<circle cx="230.9" cy="554.2" r="6.5" fill="#64b412" fill-opacity="0.8" stroke="#80ac1c" stroke-opacity="1"/>
<circle cx="242.7" cy="548.9" r="6.5" fill="#68b413" fill-opacity="0.8" stroke="#80ac1c" stroke-opacity="1"/>
<circle cx="252.0" cy="559.1" r="6.5" fill="#5fb515" fill-opacity="0.8" stroke="#80ac1c" stroke-opacity="1"/>
<circle cx="236.9" cy="565.8" r="6.5" fill="#56b81b" fill-opacity="0.8" stroke="#80ac1c" stroke-opacity="1"/>
<circle cx="236.9" cy="565.8" r="6.5" fill="#56b81b" fill-opacity="0.8" stroke="#80ac1c" stroke-opacity="1"/>
<circle cx="257.4" cy="566.4" r="6.5" fill="#55b81c" fill-opacity="0.8" stroke="#0a8ac4" stroke-opacity="1"/>
<circle cx="262.4" cy="565.8" r="6.5" fill="#56b81b" fill-opacity="0.8" stroke="#80ac1c" stroke-opacity="1"/>
<circle cx="261.9" cy="574.8" r="6.5" fill="#47b928" fill-opacity="0.8" stroke="#0a8ac4" stroke-opacity="1"/>
<circle cx="250.1" cy="586.1" r="6.5" fill="#22b840" fill-opacity="0.8" stroke="#0a8ac4" stroke-opacity="1"/>
<circle cx="250.1" cy="586.1" r="6.5" fill="#22b840" fill-opacity="0.8" stroke="#0a8ac4" stroke-opacity="1"/>
<circle cx="252.9" cy="584.4" r="6.5" fill="#29b83b" fill-opacity="0.8" stroke="#0a8ac4" stroke-opacity="1"/>
<circle cx="289.8" cy="575.9" r="6.5" fill="#46b929" fill-opacity="0.8" stroke="#0a8ac4" stroke-opacity="1"/>
<circle cx="360.0" cy="524.7" r="6.5" fill="#79b615" fill-opacity="0.8" stroke="#80ac1c" stroke-opacity="1"/>
<circle cx="315.0" cy="517.4" r="6.5" fill="#7fb716" fill-opacity="0.8" stroke="#80ac1c" stroke-opacity="1"/>
<circle cx="317.9" cy="516.9" r="6.5" fill="#80b716" fill-opacity="0.8" stroke="#80ac1c" stroke-opacity="1"/>
<circle cx="323.2" cy="527.6" r="6.5" fill="#77b614" fill-opacity="0.8" stroke="#80ac1c" stroke-opacity="1"/>
<circle cx="323.2" cy="527.6" r="6.5" fill="#77b614" fill-opacity="0.8" stroke="#80ac1c" stroke-opacity="1"/>
<circle cx="324.3" cy="529.2" r="6.5" fill="#76b514" fill-opacity="0.8" stroke="#80ac1c" stroke-opacity="1"/>
<circle cx="320.9" cy="533.2" r="6.5" fill="#73b514" fill-opacity="0.8" stroke="#80ac1c" stroke-opacity="1"/>
<circle cx="338.9" cy="523.6" r="6.5" fill="#7ab615" fill-opacity="0.8" stroke="#80ac1c" stroke-opacity="1"/>
<circle cx="338.9" cy="523.6" r="6.5" fill="#7ab615" fill-opacity="0.8" stroke="#80ac1c" stroke-opacity="1"/>
<circle cx="345.1" cy="524.2" r="6.5" fill="#79b615" fill-opacity="0.8" stroke="#80ac1c" stroke-opacity="1"/>
<circle cx="338.4" cy="530.4" r="6.5" fill="#75b514" fill-opacity="0.8" stroke="#80ac1c" stroke-opacity="1"/>
<circle cx="329.9" cy="546.7" r="6.5" fill="#6ab513" fill-opacity="0.8" stroke="#80ac1c" stroke-opacity="1"/>
<circle cx="338.9" cy="555.7" r="6.5" fill="#63b412" fill-opacity="0.8" stroke="#80ac1c" stroke-opacity="1"/>
<circle cx="321.3" cy="561.3" r="6.5" fill="#5cb617" fill-opacity="0.8" stroke="#80ac1c" stroke-opacity="1"/>
<circle cx="331.8" cy="561.6" r="6.5" fill="#5cb617" fill-opacity="0.8" stroke="#80ac1c" stroke-opacity="1"/>
<circle cx="359.2" cy="554.0" r="6.5" fill="#65b412" fill-opacity="0.8" stroke="#80ac1c" stroke-opacity="1"/>
<circle cx="368.7" cy="546.7" r="6.5" fill="#6ab513" fill-opacity="0.8" stroke="#80ac1c" stroke-opacity="1"/>
<circle cx="373.8" cy="545.6" r="6.5" fill="#6ab513" fill-opacity="0.8" stroke="#80ac1c" stroke-opacity="1"/>
<circle cx="373.8" cy="545.6" r="6.5" fill="#6ab513" fill-opacity="0.8" stroke="#80ac1c" stroke-opacity="1"/>
<circle cx="354.2" cy="598.3" r="6.5" fill="#0bbd60" fill-opacity="0.8" stroke="#0a8ac4" stroke-opacity="1"/>
<circle cx="410.6" cy="524.7" r="6.5" fill="#79b615" fill-opacity="0.8" stroke="#80ac1c" stroke-opacity="1"/>
<circle cx="410.6" cy="524.7" r="6.5" fill="#79b615" fill-opacity="0.8" stroke="#80ac1c" stroke-opacity="1"/>
<circle cx="406.1" cy="532.6" r="6.5" fill="#73b514" fill-opacity="0.8" stroke="#80ac1c" stroke-opacity="1"/>
<circle cx="428.7" cy="526.1" r="6.5" fill="#78b614" fill-opacity="0.8" stroke="#80ac1c" stroke-opacity="1"/>
<circle cx="391.8" cy="534.3" r="6.5" fill="#72b514" fill-opacity="0.8" stroke="#80ac1c" stroke-opacity="1"/>
<circle cx="394.8" cy="539.9" r="6.5" fill="#6eb513" fill-opacity="0.8" stroke="#80ac1c" stroke-opacity="1"/>
<circle cx="461.6" cy="674.3" r="6.5" fill="#05b6d7" fill-opacity="0.8" stroke="#0a8ac4" stroke-opacity="1"/>
<circle cx="188.4" cy="595.9" r="6.5" fill="#0bbe5c" fill-opacity="0.8" stroke="#0a8ac4" stroke-opacity="1"/>
<circle cx="151.4" cy="610.3" r="6.5" fill="#0aba70" fill-opacity="0.8" stroke="#0a8ac4" stroke-opacity="1"/>
<circle cx="187.7" cy="615.4" r="6.5" fill="#0aba7a" fill-opacity="0.8" stroke="#0a8ac4" stroke-opacity="1"/>
<circle cx="187.7" cy="615.4" r="6.5" fill="#0aba7a" fill-opacity="0.8" stroke="#0a8ac4" stroke-opacity="1"/>
<circle cx="205.2" cy="621.9" r="6.5" fill="#0aba86" fill-opacity="0.8" stroke="#0a8ac4" stroke-opacity="1"/>
<circle cx="150.0" cy="630.3" r="6.5" fill="#0aba96" fill-opacity="0.8" stroke="#0a8ac4" stroke-opacity="1"/>
<circle cx="150.0" cy="630.3" r="6.5" fill="#0aba96" fill-opacity="0.8" stroke="#0a8ac4" stroke-opacity="1"/>
<circle cx="163.6" cy="636.4" r="6.5" fill="#0abaa0" fill-opacity="0.8" stroke="#0a8ac4" stroke-opacity="1"/>
<circle cx="103.2" cy="644.8" r="6.5" fill="#08b8ab" fill-opacity="0.8" stroke="#0a8ac4" stroke-opacity="1"/>
<circle cx="116.0" cy="646.6" r="6.5" fill="#08b8ae" fill-opacity="0.8" stroke="#0a8ac4" stroke-opacity="1"/>
<circle cx="205.9" cy="657.1" r="6.5" fill="#07b7bd" fill-opacity="0.8" stroke="#0a8ac4" stroke-opacity="1"/>
<circle cx="120.6" cy="673.6" r="6.5" fill="#05b6d6" fill-opacity="0.8" stroke="#0a8ac4" stroke-opacity="1"/>
<circle cx="120.6" cy="673.6" r="6.5" fill="#05b6d6" fill-opacity="0.8" stroke="#0a8ac4" stroke-opacity="1"/>
<circle cx="168.9" cy="671.8" r="6.5" fill="#05b6d3" fill-opacity="0.8" stroke="#0a8ac4" stroke-opacity="1"/>
<circle cx="94.1" cy="686.2" r="6.5" fill="#05aee0" fill-opacity="0.8" stroke="#0a8ac4" stroke-opacity="1"/>
<circle cx="94.1" cy="686.2" r="6.5" fill="#05aee0" fill-opacity="0.8" stroke="#0a8ac4" stroke-opacity="1"/>
<circle cx="131.8" cy="686.2" r="6.5" fill="#05aee0" fill-opacity="0.8" stroke="#0a8ac4" stroke-opacity="1"/>
<circle cx="94.5" cy="701.1" r="6.5" fill="#05a8e6" fill-opacity="0.8" stroke="#0a8ac4" stroke-opacity="1"/>
<circle cx="101.1" cy="697.6" r="6.5" fill="#05aae4" fill-opacity="0.8" stroke="#0a8ac4" stroke-opacity="1"/>
<circle cx="279.9" cy="627.9" r="6.5" fill="#0aba91" fill-opacity="0.8" stroke="#0a8ac4" stroke-opacity="1"/>
</g>
<line x1="86" y1="583.0" x2="818" y2="246.5" stroke="#3eaee6" stroke-width="2.9" stroke-linecap="round"/>
<g stroke="#444" stroke-width="1.6" stroke-linecap="butt"><line x1="910.5" y1="16.5" x2="921.5" y2="27.5"/><line x1="921.5" y1="16.5" x2="910.5" y2="27.5"/></g>
</svg>
<div class="yl" style="top:805.3px">20</div><div class="yl" style="top:784.5px">40</div><div class="yl" style="top:763.7px">60</div><div class="yl" style="top:742.9px">80</div><div class="yl" style="top:722.1px">100</div><div class="yl" style="top:701.3px">120</div><div class="yl" style="top:680.5px">140</div><div class="yl" style="top:659.7px">160</div><div class="yl" style="top:638.9px">180</div><div class="yl" style="top:618.1px">200</div><div class="yl" style="top:597.3px">220</div><div class="yl" style="top:576.5px">240</div><div class="yl" style="top:555.7px">260</div><div class="yl" style="top:534.9px">280</div><div class="yl" style="top:514.1px">300</div><div class="yl" style="top:493.4px">320</div><div class="yl" style="top:472.6px">340</div><div class="yl" style="top:451.8px">360</div><div class="yl" style="top:431.0px">380</div><div class="yl" style="top:410.2px">400</div><div class="yl" style="top:389.4px">420</div><div class="yl" style="top:368.6px">440</div><div class="yl" style="top:347.8px">460</div><div class="yl" style="top:327.0px">480</div><div class="yl" style="top:306.2px">500</div><div class="yl" style="top:285.4px">520</div><div class="yl" style="top:264.6px">540</div><div class="yl" style="top:243.8px">560</div><div class="yl" style="top:223.0px">580</div><div class="yl" style="top:202.2px">600</div><div class="yl" style="top:181.4px">620</div><div class="yl" style="top:160.7px">640</div><div class="yl" style="top:139.9px">660</div><div class="yl" style="top:119.1px">680</div><div class="yl" style="top:98.3px">700</div><div class="yl" style="top:77.5px">720</div><div class="yl" style="top:56.7px">740</div>
<div class="xl" style="left:76.0px">0</div><div class="xl" style="left:151.6px">1</div><div class="xl" style="left:227.2px">2</div><div class="xl" style="left:302.8px">3</div><div class="xl" style="left:378.4px">4</div><div class="xl" style="left:454.0px">5</div><div class="xl" style="left:529.6px">6</div><div class="xl" style="left:605.2px">7</div><div class="xl" style="left:680.8px">8</div><div class="xl" style="left:756.4px">9</div>
<div class="btn" style="left:15px;top:391px;width:24px;height:92px;"><svg width="24" height="92" style="position:absolute;left:0;top:0"><path d="M10 10 L14.8 14.3 L10 18.6Z" fill="#fff"/></svg><div style="position:absolute;left:12px;top:56px;transform:translate(-50%,-50%) rotate(-90deg);font-size:12px;white-space:nowrap;letter-spacing:0.3px">Mol Weight</div></div>
<div class="btn" style="left:374px;top:857px;width:113px;height:24px;"><span style="position:absolute;left:5px;top:5px;font-size:12px;letter-spacing:0.3px">EST.LOGKOW</span><svg width="12" height="8" style="position:absolute;left:93px;top:10px"><path d="M0.5 0 L10 0 L5.25 5Z" fill="#fff"/></svg></div>
<div class="btn" style="left:775px;top:22px;width:79px;height:22px;background:#707070;border-radius:4px;"><span style="position:absolute;left:8px;top:6px;font-size:10px;line-height:12px">Start selection</span></div>
<div class="btn" style="left:762px;top:46px;width:160px;height:34px;background:rgba(48,51,55,0.95)"></div>
<svg width="930" height="100" style="position:absolute;left:0;top:0">
<g fill="#fff">
<path transform="translate(769,52.8) scale(0.8333)" d="M12 8c-2.21 0-4 1.79-4 4s1.79 4 4 4 4-1.79 4-4-1.79-4-4-4zm8.94 3A8.994 8.994 0 0 0 13 3.06V1h-2v2.06A8.994 8.994 0 0 0 3.06 11H1v2h2.06A8.994 8.994 0 0 0 11 20.94V23h2v-2.06A8.994 8.994 0 0 0 20.94 13H23v-2h-2.06zM12 19c-3.87 0-7-3.13-7-7s3.13-7 7-7 7 3.13 7 7-3.13 7-7 7z"/>
<rect x="807.3" y="58.8" width="8.4" height="1.5"/><rect x="810.8" y="55.3" width="1.5" height="8.4"/>
<path d="M819.3 56.4h1.2a2.5 2.5 0 0 1 2.5 2.5v1.8h-1.5v-1.8a1 1 0 0 0-1-1h-1.2z"/>
<rect x="821.5" y="62" width="1.5" height="3.5"/>
<path d="M823 66.8v1.3a2.5 2.5 0 0 1-2.5 2.5h-1.4v-1.5h1.4a1 1 0 0 0 1-1v-1.3z"/>
<rect x="814" y="69.1" width="3.4" height="1.5"/>
<path d="M812.5 70.6h-1.3a2.5 2.5 0 0 1-2.5-2.5v-1.6h1.5v1.6a1 1 0 0 0 1 1h1.3z"/>
<path d="M840.7 60.7h8.6l-4.3 4.6z"/>
<circle cx="874" cy="57.9" r="1.7"/><circle cx="869.8" cy="62.3" r="1.7"/><circle cx="878.5" cy="66.3" r="1.7"/>
<circle cx="905" cy="57.9" r="1.75"/><circle cx="905" cy="63.0" r="1.75"/><circle cx="905" cy="68.2" r="1.75"/>
</g>
<line x1="868.6" y1="69.3" x2="881.2" y2="56.7" stroke="#fff" stroke-width="1.3"/>
<circle cx="797" cy="52.1" r="0.7" fill="#888"/>
</svg>
<div style="position:absolute;left:832px;top:82px;font-size:12px;color:#333;line-height:14px">slope<br>intercept<br>R<sup style="font-size:9px;vertical-align:5px;line-height:0">2</sup></div>
<div style="position:absolute;left:879px;top:82px;width:47px;overflow:hidden;font-size:12px;color:#333;line-height:14px;white-space:nowrap">33.44000<br>238.39000<br>0.32000</div>
<div style="position:absolute;left:834px;top:127px;width:83px;height:1px;background:#d0d0d0"></div>
<div class="btn" style="left:832px;top:132px;width:73px;height:24px;"><span style="position:absolute;left:5px;top:5px;font-size:12px;font-weight:bold">Mol Weight</span></div>
<div style="position:absolute;left:832px;top:166px;width:10px;height:100px;border-radius:5px;background:linear-gradient(#38b3e6 0%,#30b9c8 10%,#22c17a 19%,#6fba40 23%,#99bc40 37%,#b0b850 47%,#d8b030 59%,#f7932f 73%,#f08a45 84%,#d9845a 100%)"></div>
<div style="position:absolute;left:846px;top:160.5px;font-size:10px;color:#222;line-height:15.8px">100<br>200<br>300<br>400<br>500<br>600<br>700</div>
<div style="position:absolute;left:826px;top:282px;width:100px;height:17px;background:#f1f1f1"><div style="position:absolute;left:17px;top:2px;width:60px;height:13px;background:#c1c1c1"></div><svg width="100" height="17" style="position:absolute;left:0;top:0"><path d="M10.3 5 L6.3 8.5 L10.3 12Z" fill="#a3a3a3"/><path d="M89.8 5 L93.8 8.5 L89.8 12Z" fill="#505050"/></svg></div>
</body></html>
